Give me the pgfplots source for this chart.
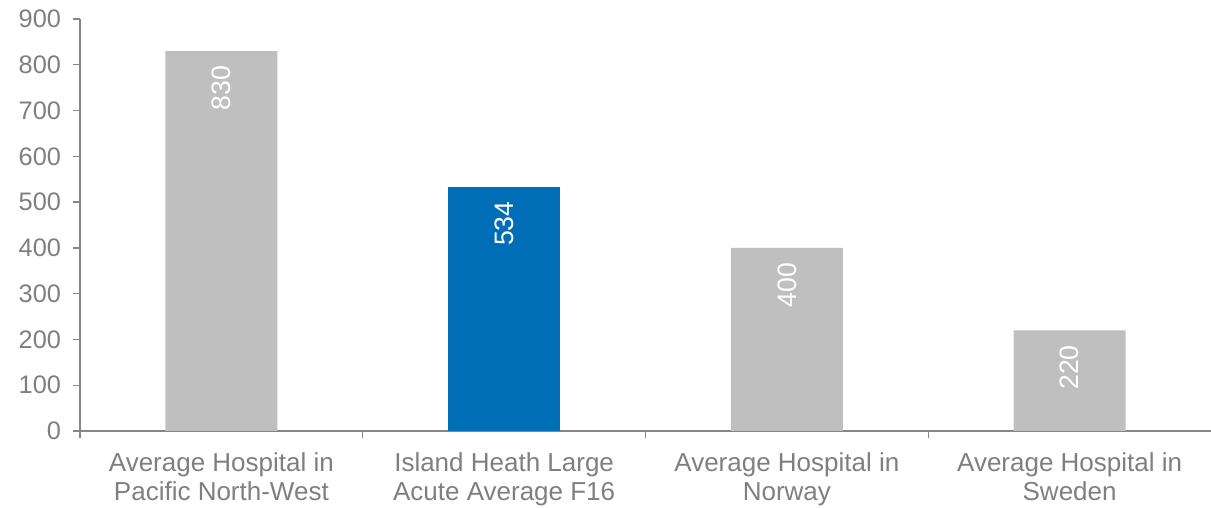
\documentclass[border=0pt]{standalone}
\usepackage{fontspec}
\setmainfont{Liberation Sans}
\usepackage{pgfplots}
\pgfplotsset{compat=1.18}
\definecolor{bargray}{HTML}{BFBFBF}
\definecolor{barblue}{HTML}{006EB6}
\definecolor{txtgray}{HTML}{7F7F7F}
\definecolor{axgray}{HTML}{868686}
\begin{document}
\begin{tikzpicture}
\begin{axis}[
  name=ax,
  scale only axis,
  width=848.25pt, height=309pt,
  xmin=-0.5, xmax=3.5,
  ymin=0, ymax=900,
  ytick={0,100,...,900},
  xtick={0,1,2,3},
  xticklabels={{Average Hospital in\\Pacific North-West},{Island Heath Large\\Acute Average F16},{Average Hospital in\\Norway},{Average Hospital in\\Sweden}},
  minor xtick={-0.5,0.5,1.5,2.5},
  axis lines*=left,
  axis line style={axgray, line width=1pt},
  every major x tick/.append style={draw=none},
  every minor x tick/.append style={axgray, line width=1pt},
  every major y tick/.append style={axgray, line width=1pt},
  tick align=outside,
  major tick length=5.25pt,
  minor tick length=5.25pt,
  /pgf/number format/assume math mode=true,
  yticklabel style={font=\fontsize{19}{22}\selectfont, text=txtgray, xshift=-5.5pt},
  xticklabel style={font=\fontsize{19.5}{22}\selectfont, text=txtgray, align=center, yshift=-7.5pt},
  ybar, bar width=84pt, bar shift=0pt,
  nodes near coords,
  every node near coord/.append style={rotate=90, anchor=east, text=white, font=\fontsize{20}{22}\selectfont, inner xsep=11pt},
  clip=false,
]
\addplot[draw=none, fill=bargray] coordinates {(0,830) (2,400) (3,220)};
\addplot[draw=none, fill=barblue] coordinates {(1,534)};
\end{axis}
\pgfresetboundingbox
\path[use as bounding box] ([xshift=-60pt,yshift=-57.75pt]ax.south west) rectangle ([yshift=14.25pt]ax.north east);
\end{tikzpicture}
\end{document}
